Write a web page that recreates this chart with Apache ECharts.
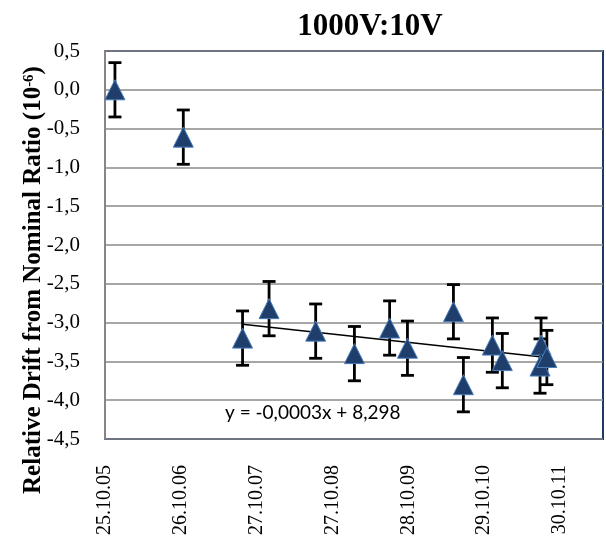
<!DOCTYPE html>
<html>
<head>
<meta charset="utf-8">
<script src="https://cdn.jsdelivr.net/npm/echarts@6/dist/echarts.min.js"></script>
<style>html,body{margin:0;padding:0;background:#fff}#c{width:606px;height:538px}</style>
</head>
<body>
<div id="c"></div>
<script>
// ---- data ----
const axisStart = '2005-10-25';
const dates = ['2005-12-12','2006-11-07','2007-08-20','2007-12-26','2008-08-07','2009-02-10','2009-07-30','2009-10-24','2010-06-03','2010-07-21','2010-12-08','2011-01-25','2011-07-31','2011-07-26','2011-08-28'];
const values = [0.00, -0.61, -3.20, -2.82, -3.11, -3.40, -3.07, -3.33, -2.86, -3.80, -3.29, -3.49, -3.29, -3.56, -3.45];
const errors = [0.35, 0.35, 0.35, 0.35, 0.35, 0.35, 0.35, 0.35, 0.35, 0.35, 0.35, 0.35, 0.35, 0.35, 0.35];
const trendDates = ['2007-08-20', '2011-08-28'];
const trendValues = [-3.02, -3.45];
const yTickMin = -4.5, yTickMax = 0.5, yTickStep = 0.5;
const xTickStepDays = 366, xMaxDays = 2404;
const titleText = '1000V:10V';
const trendLabel = 'y = -0,0003x + 8,298';

// ---- helpers ----
const DAY = 86400000;
const t0 = Date.UTC(...axisStart.split('-').map((v,i)=>i===1?+v-1:+v));
function dayOff(s){ const p = s.split('-').map(Number); return Math.round((Date.UTC(p[0],p[1]-1,p[2]) - t0)/DAY); }
function fmtDate(d){ const dt = new Date(t0 + d*DAY); const dd = String(dt.getUTCDate()).padStart(2,'0'); const mm = String(dt.getUTCMonth()+1).padStart(2,'0'); const yy = String(dt.getUTCFullYear()%100).padStart(2,'0'); return dd+'.'+mm+'.'+yy; }

const pts = dates.map((d,i)=>[dayOff(d), values[i]]);
const errData = dates.map((d,i)=>[dayOff(d), values[i]-errors[i], values[i]+errors[i]]);
const trend = trendDates.map((d,i)=>[dayOff(d), trendValues[i]]);

const serif = '"Liberation Serif", "Times New Roman", serif';
const chart = echarts.init(document.getElementById('c'), null, {renderer:'canvas'});
chart.setOption({
  animation: false,
  title: {
    text: titleText, left: 365, top: 6, textAlign: 'center',
    textStyle: {fontFamily: serif, fontWeight: 'bold', fontSize: 31, color: '#000'}
  },
  grid: {left: 105, right: 3, top: 51, bottom: 99, show: true, borderColor: '#1F3864', borderWidth: 2, backgroundColor: 'transparent'},
  xAxis: {
    type: 'value', min: 0, max: xMaxDays, interval: xTickStepDays,
    axisLine: {show: false}, axisTick: {show: false}, splitLine: {show: false},
    axisLabel: {rotate: 90, margin: 26, showMaxLabel: false, formatter: v => fmtDate(v),
      fontFamily: serif, fontSize: 20, color: '#000'}
  },
  yAxis: {
    type: 'value', min: yTickMin, max: yTickMax, interval: yTickStep,
    axisLine: {show: true, lineStyle: {color: '#868686', width: 2}}, axisTick: {show: false},
    splitLine: {show: true, lineStyle: {color: '#8a8a8a', width: 1.5}},
    axisLabel: {margin: 25, formatter: v => v.toFixed(1).replace('.', ','),
      fontFamily: serif, fontSize: 21, color: '#000'}
  },
  graphic: [
    {type: 'text', x: 34, y: 280, rotation: Math.PI/2, z: 100,
      style: {text: 'Relative Drift from Nominal Ratio (10{sup|-6})', align: 'center', verticalAlign: 'middle',
        fontFamily: serif, fontWeight: 'bold', fontSize: 25, fill: '#000',
        rich: {sup: {fontSize: 15, fontWeight: 'bold', fontFamily: serif, verticalAlign: 'top', padding: [0,0,10,0]}}}},
    {type: 'text', x: 225, y: 413, z: 100,
      style: {text: trendLabel, align: 'left', verticalAlign: 'middle', fontFamily: 'Lato, "Open Sans", sans-serif', fontSize: 19, fill: '#000'}}
  ],
  series: [
    {type: 'custom', z: 2, data: errData, encode: {x: 0, y: [1,2]},
      renderItem: function(params, api){
        const x = api.value(0), lo = api.value(1), hi = api.value(2);
        const a = api.coord([x, hi]), b = api.coord([x, lo]);
        const h = 6.5, st = {stroke: '#000', lineWidth: 2.8};
        return {type: 'group', children: [
          {type: 'line', shape: {x1: a[0], y1: a[1], x2: b[0], y2: b[1]}, style: st},
          {type: 'line', shape: {x1: a[0]-h, y1: a[1], x2: a[0]+h, y2: a[1]}, style: st},
          {type: 'line', shape: {x1: b[0]-h, y1: b[1], x2: b[0]+h, y2: b[1]}, style: st}
        ]};
      }},
    {type: 'line', z: 3, data: trend, symbol: 'none', lineStyle: {color: '#000', width: 1.5}},
    {type: 'scatter', z: 4, data: pts, symbol: 'triangle', symbolSize: 20,
      itemStyle: {color: '#1F3E6C', borderColor: '#4A7EBB', borderWidth: 1, opacity: 1}}
  ]
});
</script>
</body>
</html>
